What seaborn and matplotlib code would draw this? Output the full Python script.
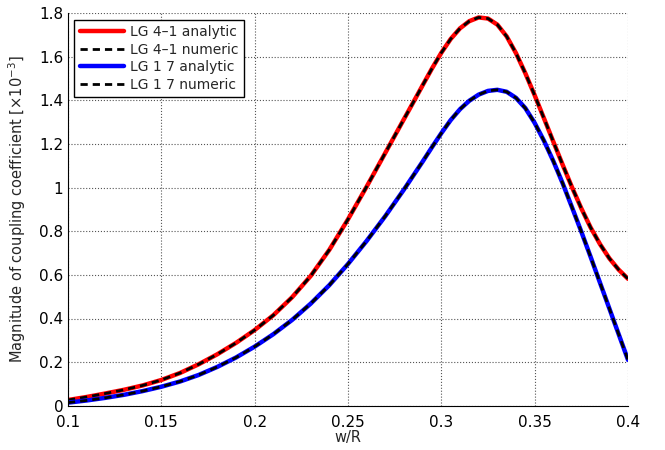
import numpy as np
import pandas as pd
import matplotlib
matplotlib.use("Agg")
import matplotlib.pyplot as plt
import seaborn as sns
from matplotlib.ticker import AutoMinorLocator, FuncFormatter

# values (coupling coefficient, x1e-3)
w_over_r = [0.10, 0.11, 0.12, 0.13, 0.14, 0.15, 0.16, 0.17, 0.18, 0.19,
            0.20, 0.21, 0.22, 0.23, 0.24, 0.25, 0.26, 0.27, 0.28, 0.285,
            0.29, 0.295, 0.30, 0.305, 0.31, 0.315, 0.32, 0.325, 0.33, 0.335,
            0.34, 0.345, 0.35, 0.355, 0.36, 0.365, 0.37, 0.375, 0.38, 0.385,
            0.39, 0.395, 0.40]
lg41 = [0.026, 0.040, 0.056, 0.073, 0.093, 0.118, 0.150, 0.190, 0.236, 0.288,
        0.347, 0.415, 0.497, 0.595, 0.715, 0.855, 1.005, 1.160, 1.315, 1.392,
        1.470, 1.547, 1.619, 1.682, 1.731, 1.764, 1.781, 1.776, 1.748, 1.694,
        1.617, 1.525, 1.424, 1.318, 1.211, 1.105, 1.002, 0.905, 0.817, 0.741,
        0.676, 0.624, 0.582]
lg17 = [0.014, 0.024, 0.036, 0.050, 0.067, 0.087, 0.111, 0.141, 0.178, 0.221,
        0.271, 0.328, 0.393, 0.468, 0.553, 0.650, 0.756, 0.870, 0.992, 1.056,
        1.120, 1.186, 1.250, 1.310, 1.360, 1.399, 1.427, 1.444, 1.449, 1.440,
        1.412, 1.365, 1.297, 1.215, 1.122, 1.020, 0.910, 0.798, 0.682, 0.564,
        0.446, 0.328, 0.210]

df = pd.DataFrame({"w": w_over_r, "lg41": lg41, "lg17": lg17})

sns.set_style("white")
plt.rcParams["font.family"] = ["DejaVu Sans"]

fig = plt.figure(figsize=(6.65, 4.5), dpi=100)
ax = fig.add_axes([68 / 665, 44.3 / 450, 560 / 665, 392.4 / 450])

dash = (2.6, 1.8)
solid_kw = dict(lw=3.2, solid_capstyle="round", solid_joinstyle="round")
sns.lineplot(data=df, x="w", y="lg41", ax=ax, color="red", label="LG 4\u20131 analytic", **solid_kw)
sns.lineplot(data=df, x="w", y="lg41", ax=ax, color="black", lw=2,
             label="LG 4\u20131 numeric")
sns.lineplot(data=df, x="w", y="lg17", ax=ax, color="blue", label="LG 1 7 analytic", **solid_kw)
sns.lineplot(data=df, x="w", y="lg17", ax=ax, color="black", lw=2,
             label="LG 1 7 numeric")
for ln in ax.lines[1::2]:
    ln.set_dashes(dash)
    ln.set_dash_joinstyle("round")

ax.set_xlim(0.1, 0.4)
ax.set_ylim(0, 1.8)
ax.set_xticks(np.arange(0.1, 0.401, 0.05))
ax.set_yticks(np.arange(0, 1.801, 0.2))
fmt = FuncFormatter(lambda v, p: "%g" % round(v, 3))
ax.xaxis.set_major_formatter(fmt)
ax.yaxis.set_major_formatter(fmt)
ax.xaxis.set_minor_locator(AutoMinorLocator(5))
ax.yaxis.set_minor_locator(AutoMinorLocator(5))
ax.tick_params(which="both", direction="in", colors="black", labelsize=11)
ax.tick_params(which="major", length=5, width=0.8)
ax.tick_params(axis="x", pad=7)
ax.tick_params(which="minor", length=2.5, width=0.6)

ax.grid(True, which="major", linestyle=":", color="#555555", linewidth=0.8)
for s in ["top", "right"]:
    ax.spines[s].set_visible(False)
for s in ["left", "bottom"]:
    ax.spines[s].set_color("black")
    ax.spines[s].set_linewidth(0.8)

ax.set_xlabel("w/R", fontsize=10.5, labelpad=0)
ax.set_ylabel("Magnitude of coupling coefficient [\u00d710$^{-3}$]", fontsize=10.5, labelpad=8)

leg = ax.legend(loc="upper left", fontsize=10, frameon=True, fancybox=False,
                handlelength=3.2, borderaxespad=0.45, labelspacing=0.25,
                handletextpad=0.4, borderpad=0.4)
leg.get_frame().set_edgecolor("black")
leg.get_frame().set_linewidth(1.0)
leg.get_frame().set_alpha(1)

fig.savefig("out.png", dpi=100)
